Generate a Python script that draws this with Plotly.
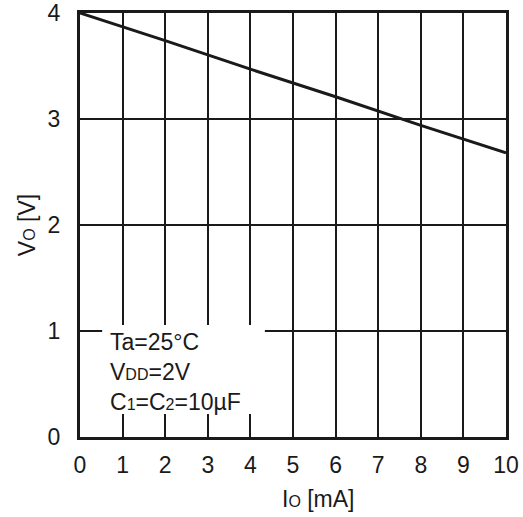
import plotly.graph_objects as go

io_ma = [0, 2, 4, 6, 8, 10]
vo_v = [4.0, 3.74, 3.47, 3.21, 2.94, 2.68]
x_ticks = [0, 1, 2, 3, 4, 5, 6, 7, 8, 9, 10]
y_ticks = [0, 1, 2, 3, 4]

FONT = "Arial, Liberation Sans, Helvetica, sans-serif"
INK = "#1a1a1a"
FS = 23
SUB = 16

fig = go.Figure()
fig.add_trace(go.Scatter(x=io_ma, y=vo_v, mode="lines",
                         line=dict(color=INK, width=3), showlegend=False,
                         hoverinfo="skip"))

fig.update_layout(
    width=523, height=517,
    margin=dict(l=80, r=17, t=13, b=80),
    paper_bgcolor="white", plot_bgcolor="white",
    font=dict(family=FONT, size=FS, color=INK),
    xaxis=dict(range=[0, 10], tickvals=x_ticks, ticktext=[str(v) for v in x_ticks],
               showgrid=True, gridcolor=INK, gridwidth=1.5,
               showline=True, linecolor=INK, linewidth=3, mirror=True,
               ticks="outside", ticklen=0, ticklabelstandoff=5,
               zeroline=False, tickfont=dict(size=FS), automargin=False),
    yaxis=dict(range=[0, 4], tickvals=y_ticks, ticktext=[str(v) for v in y_ticks],
               showgrid=True, gridcolor=INK, gridwidth=1.5,
               showline=True, linecolor=INK, linewidth=3, mirror=True,
               ticks="outside", ticklen=0, ticklabelstandoff=12,
               zeroline=False, tickfont=dict(size=FS), automargin=False,
               title=dict(text=f"V<span style='font-size:{SUB}px'>O</span> [V]",
                          font=dict(size=FS), standoff=6)),
)

# white box behind the condition text
fig.add_shape(type="rect", xref="x", yref="y", x0=0.52, x1=4.34, y0=0.217, y1=1.057,
              fillcolor="white", line=dict(width=0), layer="above")

fig.add_annotation(
    xref="x", yref="y", x=0.66, y=0.61, xanchor="left", yanchor="middle",
    align="left", showarrow=False, font=dict(size=FS, color=INK),
    text=("Ta=25°C<br>"
          f"V<span style='font-size:{SUB}px'>DD</span>=2V<br>"
          f"C<span style='font-size:{SUB}px'>1</span>=C<span style='font-size:{SUB}px'>2</span>=10µF"),
)

fig.add_annotation(
    xref="paper", yref="paper", x=0.561, y=-0.147, xanchor="center", yanchor="middle",
    showarrow=False, font=dict(size=FS, color=INK),
    text=f"I<span style='font-size:{SUB}px'>O</span> [mA]",
)

fig.write_html("out.html", config={"displayModeBar": False},
               post_script="document.body.style.margin='0px';document.body.style.overflow='hidden';")
